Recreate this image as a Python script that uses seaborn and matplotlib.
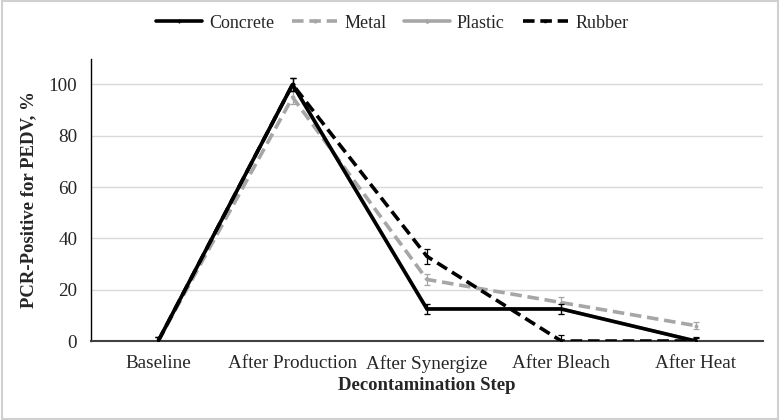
import matplotlib
matplotlib.use("Agg")
import matplotlib.pyplot as plt
import seaborn as sns
import pandas as pd
import numpy as np

steps = ["Baseline", "After Production", "After Synergize", "After Bleach", "After Heat"]
concrete = [0, 100, 12.5, 12.5, 0]
metal = [0, 95, 24, 15, 6]
plastic = [0, 100, 12.5, 12.5, 0]
rubber = [0, 100, 33, 0, 0]
concrete_err = [1.5, 2.5, 2, 2, 1]
metal_err = [1.5, 2.5, 2, 2, 1.5]
plastic_err = [1.5, 2.5, 2, 2, 1]
rubber_err = [1.5, 2.5, 3, 2.5, 1.5]

series = {"Concrete": (concrete, concrete_err), "Metal": (metal, metal_err),
          "Plastic": (plastic, plastic_err), "Rubber": (rubber, rubber_err)}
styles = {
    "Concrete": dict(color="black", ls="-", marker="+", ms=3),
    "Metal": dict(color="#a6a6a6", ls=(0, (3.2, 1.6)), marker="o", ms=2),
    "Plastic": dict(color="#a6a6a6", ls="-", marker="D", ms=2),
    "Rubber": dict(color="black", ls=(0, (3.2, 1.6)), marker="s", ms=2),
}
order = ["Plastic", "Metal", "Concrete", "Rubber"]

rows = []
for name, (vals, errs) in series.items():
    for i, (s, v) in enumerate(zip(steps, vals)):
        rows.append(dict(series=name, idx=i, step=s, value=v))
df = pd.DataFrame(rows)

sns.set_style("white")
plt.rcParams["font.family"] = ["Liberation Serif", "DejaVu Serif"]

fig = plt.figure(figsize=(7.8, 4.2), dpi=100)
ax = fig.add_axes([0.1167, 0.188, 0.8613, 0.672])

handles = {}
for z, name in enumerate(order):
    st = styles[name]
    sub = df[df.series == name]
    sns.lineplot(data=sub, x="idx", y="value", ax=ax, color=st["color"],
                 linestyle=st["ls"], lw=2.6, marker=st["marker"], markersize=st["ms"],
                 markeredgecolor=st["color"], zorder=3 + z, legend=False)
    vals, errs = series[name]
    ax.errorbar(range(len(steps)), vals, yerr=errs, fmt="none", ecolor=st["color"],
                elinewidth=0.9, capsize=2.5, capthick=0.9, zorder=3 + z)
    handles[name] = plt.Line2D([], [], color=st["color"], ls=st["ls"], lw=2.6,
                               marker=st["marker"], ms=st["ms"])

ax.set_xlim(-0.5, 4.5)
ax.set_ylim(0, 110)
ax.set_yticks([0, 20, 40, 60, 80, 100])
ax.set_xticks(range(len(steps)))
ax.set_xticklabels(steps)
ax.tick_params(axis="x", labelsize=13.8, length=0, pad=10)
ax.tick_params(axis="y", labelsize=13.8, length=0, pad=10)
ax.grid(axis="y", color="#d9d9d9", lw=1)
ax.set_axisbelow(True)
for s in ["top", "right"]:
    ax.spines[s].set_visible(False)
ax.spines["left"].set_color("black")
ax.spines["bottom"].set_color("#404040")
ax.spines["left"].set_linewidth(1)
ax.spines["bottom"].set_linewidth(1.5)

ax.set_xlabel("Decontamination Step", fontsize=13.5, fontweight="bold", labelpad=3)
ax.set_ylabel("PCR-Positive for PEDV, %", fontsize=13.5, fontweight="bold", labelpad=8)

leg_names = ["Concrete", "Metal", "Plastic", "Rubber"]
fig.legend([handles[n] for n in leg_names], leg_names, loc="center",
           bbox_to_anchor=(0.503, 0.945), ncol=4, frameon=False, fontsize=13,
           handlelength=2.5, columnspacing=1.0, handletextpad=0.4)

border = plt.Rectangle((0.002, 0.003), 0.996, 0.994, transform=fig.transFigure,
                       fill=False, edgecolor="#d0d0d0", lw=1.5)
fig.patches.append(border)

fig.savefig("out.png", dpi=100)
